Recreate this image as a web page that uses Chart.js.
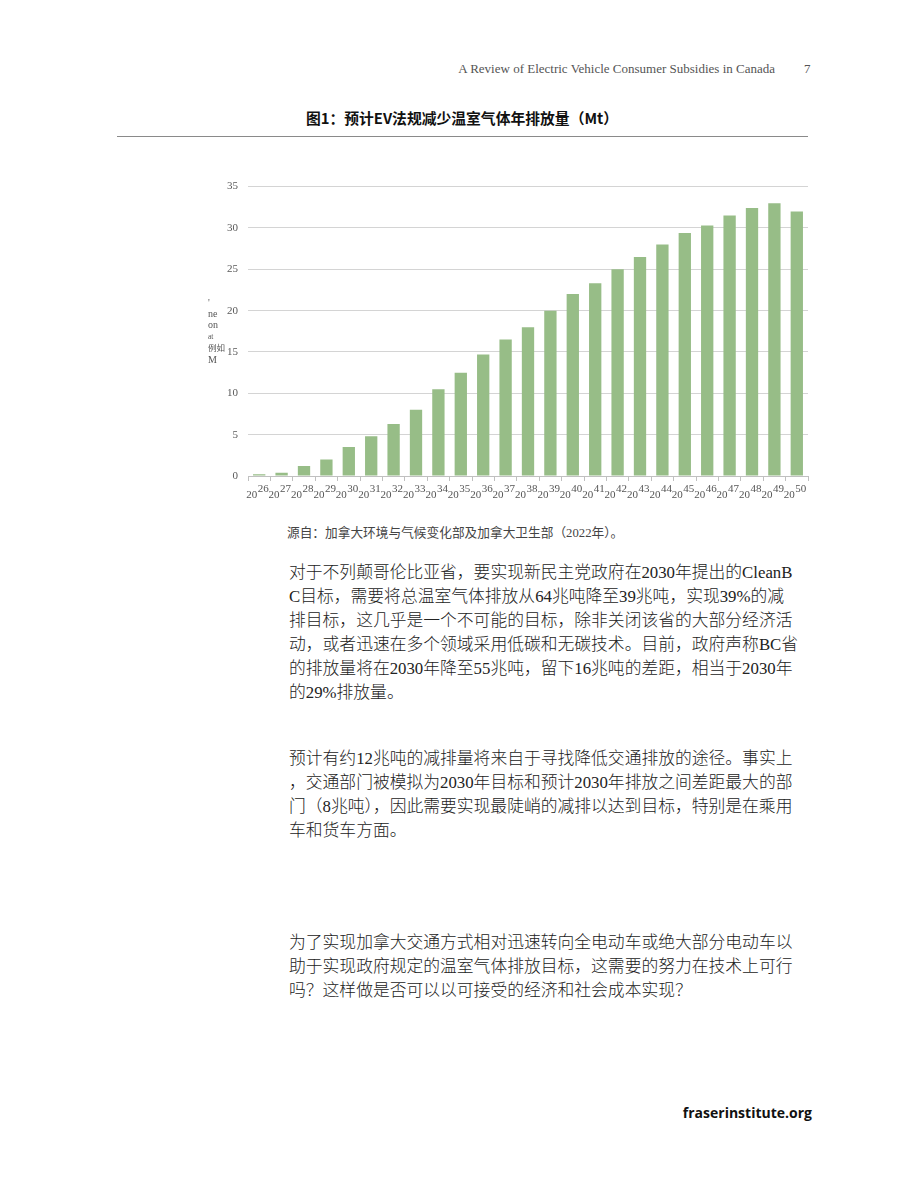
<!DOCTYPE html>
<html><head><meta charset="utf-8">
<script src="https://cdn.jsdelivr.net/npm/chart.js@4"></script>
<style>
html,body{margin:0;padding:0;background:#fff;}
body{width:920px;height:1191px;position:relative;overflow:hidden;}
.abs{position:absolute;white-space:nowrap;}
#hdr{right:145px;top:61px;font:13px "Liberation Serif","DejaVu Serif",serif;color:#555;}
#pg{left:804px;top:61px;font:13px "Liberation Serif",serif;color:#555;}
#title{left:0;width:924px;text-align:center;top:107px;font:bold 14.8px "Noto Sans CJK SC",sans-serif;color:#111;}
#rule{left:117px;top:136px;width:691px;height:0;border-top:1.5px solid #8a8a8a;}
#src{left:287px;top:522px;font:12.7px "Liberation Serif","Noto Sans CJK SC",sans-serif;color:#444;}
.body{left:289px;font:300 16.8px/24px "Liberation Serif","Noto Sans CJK SC",serif;color:#222;}
#foot{right:108px;top:1103px;font:bold 14px "Open Sans","Noto Sans",sans-serif;color:#111;}
#ylab{left:208px;top:297px;font:10px/11px "Liberation Serif","Noto Sans CJK SC",serif;color:#555;}
#wrap{position:absolute;left:200px;top:170px;width:614px;height:336px;}
</style></head><body>
<div id="hdr" class="abs">A Review of Electric Vehicle Consumer Subsidies in Canada</div>
<div id="pg" class="abs">7</div>
<div id="title" class="abs">图1：预计EV法规减少温室气体年排放量（Mt）</div>
<div id="rule" class="abs"></div>
<div id="wrap"><canvas id="c"></canvas></div>
<div id="ylab" class="abs">'<br>ne<br>on<br><span style="font-size:7.5px">at</span><br><span style="font-size:8.5px">例如</span><br>M</div>
<div id="src" class="abs">源自：加拿大环境与气候变化部及加拿大卫生部（2022年）。</div>
<div class="abs body" style="top:561px">对于不列颠哥伦比亚省，要实现新民主党政府在2030年提出的CleanB<br>C目标，需要将总温室气体排放从64兆吨降至39兆吨，实现39%的减<br>排目标，这几乎是一个不可能的目标，除非关闭该省的大部分经济活<br>动，或者迅速在多个领域采用低碳和无碳技术。目前，政府声称BC省<br>的排放量将在2030年降至55兆吨，留下16兆吨的差距，相当于2030年<br>的29%排放量。</div>
<div class="abs body" style="top:747px">预计有约12兆吨的减排量将来自于寻找降低交通排放的途径。事实上<br>，交通部门被模拟为2030年目标和预计2030年排放之间差距最大的部<br>门（8兆吨），因此需要实现最陡峭的减排以达到目标，特别是在乘用<br>车和货车方面。</div>
<div class="abs body" style="top:931px">为了实现加拿大交通方式相对迅速转向全电动车或绝大部分电动车以<br>助于实现政府规定的温室气体排放目标，这需要的努力在技术上可行<br>吗？这样做是否可以以可接受的经济和社会成本实现？</div>
<div id="foot" class="abs">fraserinstitute.org</div>
<script>
const years = ['2026','2027','2028','2029','2030','2031','2032','2033','2034','2035','2036','2037','2038','2039','2040','2041','2042','2043','2044','2045','2046','2047','2048','2049','2050'];
const reductions = [0.2,0.4,1.2,2.0,3.5,4.8,6.3,8.0,10.5,12.5,14.7,16.5,18.0,20.0,22.0,23.3,25.0,26.5,28.0,29.4,30.3,31.5,32.4,33.0,32.0];
const yTicks = [0,5,10,15,20,25,30,35];

const yearLabels = {
  id: 'yearLabels',
  afterDraw(chart) {
    const sx = chart.scales.x, ctx = chart.ctx;
    ctx.save();
    ctx.font = '11px "Liberation Serif", serif';
    ctx.fillStyle = '#555';
    ctx.textBaseline = 'middle';
    years.forEach((y, i) => {
      const px = sx.getPixelForValue(i);
      ctx.textAlign = 'right';
      ctx.fillText(y.slice(0,2), px - 2, sx.top + 19);
      ctx.textAlign = 'left';
      ctx.fillText(y.slice(2), px - 1.5, sx.top + 13);
    });
    ctx.restore();
  }
};

new Chart(document.getElementById('c'), {
  type: 'bar',
  data: { labels: years, datasets: [{ data: reductions, backgroundColor: '#97bd87', borderWidth: 0, barPercentage: 0.55, categoryPercentage: 1 }] },
  options: {
    responsive: true, maintainAspectRatio: false, animation: false,
    layout: { padding: { top: 4, right: 6, left: 0, bottom: 0 } },
    plugins: { legend: { display: false }, tooltip: { enabled: false } },
    scales: {
      x: {
        grid: { display: true, drawOnChartArea: false, drawTicks: true, tickLength: 5, color: '#c0c0c0', offset: true },
        border: { display: true, color: '#c0c0c0' },
        ticks: { display: false },
        afterFit(s) { s.height = 30; }
      },
      y: {
        min: 0, max: 35,
        afterBuildTicks(s) { s.ticks = yTicks.map(v => ({ value: v })); },
        grid: { color: '#d4d4d4', drawTicks: false, lineWidth: 1 },
        border: { display: false },
        ticks: { color: '#595959', padding: 10, font: { family: '"Liberation Serif", serif', size: 11 } },
        afterFit(s) { s.width = 48; }
      }
    }
  },
  plugins: [yearLabels]
});
</script>
</body></html>
